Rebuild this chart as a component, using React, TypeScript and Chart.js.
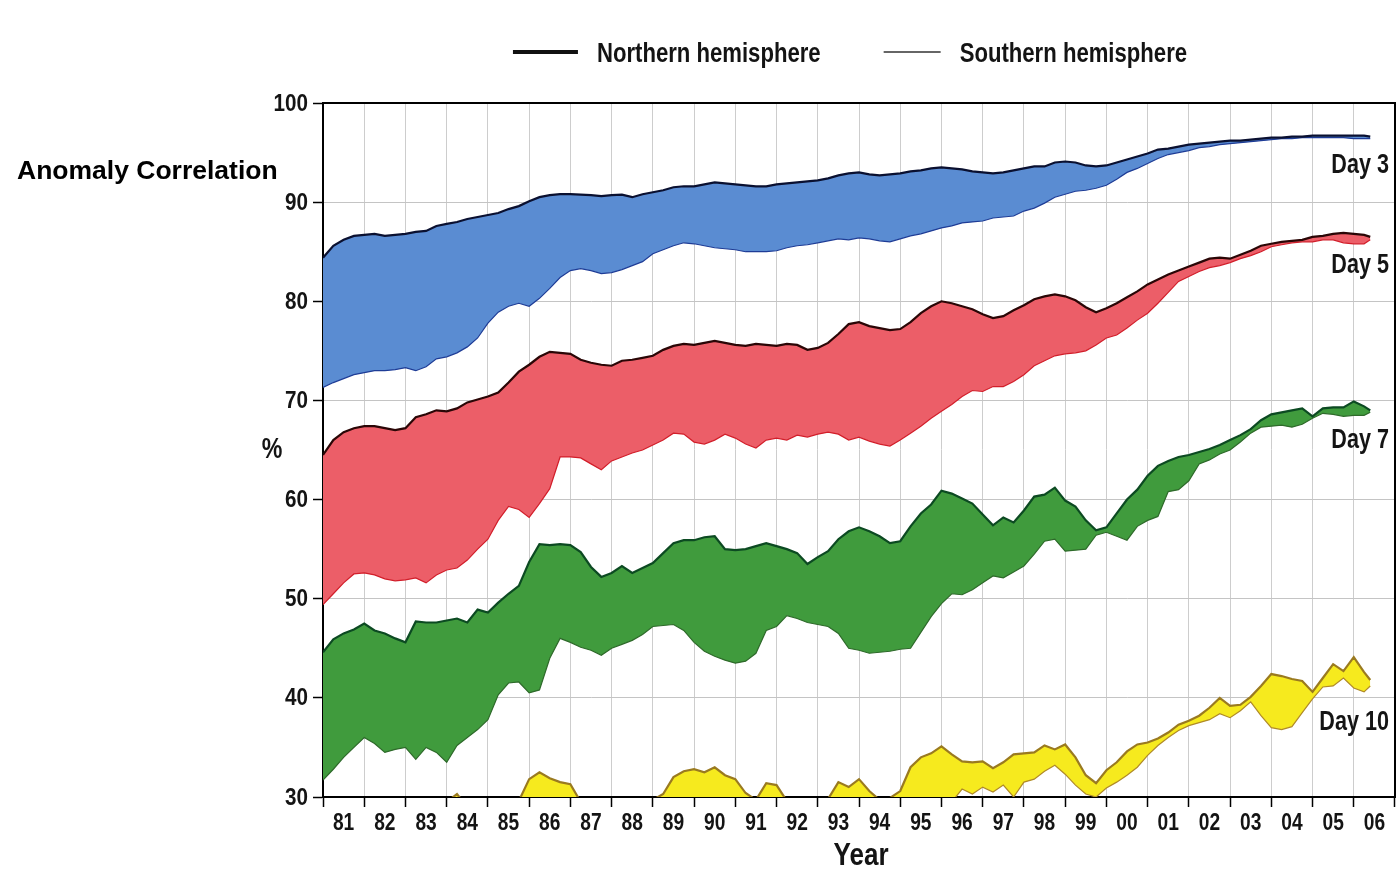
import React, { useEffect, useRef } from 'react';
import { Chart, registerables } from 'chart.js';

Chart.register(...registerables);

// x axis labels (one slot per year)
const yearLabels = ['81','82','83','84','85','86','87','88','89','90','91','92','93','94','95','96','97','98','99','00','01','02','03','04','05','06'];

// sampling positions (decimal years)
const t = [
  1981.0, 1981.25, 1981.5, 1981.75, 1982.0, 1982.25, 1982.5, 1982.75,
  1983.0, 1983.25, 1983.5, 1983.75, 1984.0, 1984.25, 1984.5, 1984.75,
  1985.0, 1985.25, 1985.5, 1985.75, 1986.0, 1986.25, 1986.5, 1986.75,
  1987.0, 1987.25, 1987.5, 1987.75, 1988.0, 1988.25, 1988.5, 1988.75,
  1989.0, 1989.25, 1989.5, 1989.75, 1990.0, 1990.25, 1990.5, 1990.75,
  1991.0, 1991.25, 1991.5, 1991.75, 1992.0, 1992.25, 1992.5, 1992.75,
  1993.0, 1993.25, 1993.5, 1993.75, 1994.0, 1994.25, 1994.5, 1994.75,
  1995.0, 1995.25, 1995.5, 1995.75, 1996.0, 1996.25, 1996.5, 1996.75,
  1997.0, 1997.25, 1997.5, 1997.75, 1998.0, 1998.25, 1998.5, 1998.75,
  1999.0, 1999.25, 1999.5, 1999.75, 2000.0, 2000.25, 2000.5, 2000.75,
  2001.0, 2001.25, 2001.5, 2001.75, 2002.0, 2002.25, 2002.5, 2002.75,
  2003.0, 2003.25, 2003.5, 2003.75, 2004.0, 2004.25, 2004.5, 2004.75,
  2005.0, 2005.25, 2005.5, 2005.75, 2006.0, 2006.25, 2006.4,
];

// Day 3
const day3North = [
  84.4, 85.6, 86.2, 86.6, 86.7, 86.8, 86.6, 86.7,
  86.8, 87.0, 87.1, 87.6, 87.8, 88.0, 88.3, 88.5,
  88.7, 88.9, 89.3, 89.6, 90.1, 90.5, 90.7, 90.8,
  90.8, 90.75, 90.7, 90.6, 90.7, 90.75, 90.5, 90.8,
  91.0, 91.2, 91.5, 91.6, 91.6, 91.8, 92.0, 91.9,
  91.8, 91.7, 91.6, 91.6, 91.8, 91.9, 92.0, 92.1,
  92.2, 92.4, 92.7, 92.9, 93.0, 92.8, 92.7, 92.8,
  92.9, 93.1, 93.2, 93.4, 93.5, 93.4, 93.3, 93.1,
  93.0, 92.9, 93.0, 93.2, 93.4, 93.6, 93.6, 94.0,
  94.1, 94.0, 93.7, 93.6, 93.7, 94.0, 94.3, 94.6,
  94.9, 95.3, 95.4, 95.6, 95.8, 95.9, 96.0, 96.1,
  96.2, 96.2, 96.3, 96.4, 96.5, 96.5, 96.6, 96.6,
  96.7, 96.7, 96.7, 96.7, 96.7, 96.7, 96.6,
];
const day3South = [
  71.3, 71.8, 72.2, 72.6, 72.8, 73.0, 73.0, 73.1,
  73.3, 73.0, 73.4, 74.2, 74.4, 74.8, 75.4, 76.3,
  77.8, 78.9, 79.5, 79.8, 79.5, 80.3, 81.3, 82.4,
  83.1, 83.3, 83.1, 82.8, 82.9, 83.2, 83.6, 84.0,
  84.8, 85.2, 85.6, 85.9, 85.8, 85.6, 85.4, 85.3,
  85.2, 85.0, 85.0, 85.0, 85.1, 85.4, 85.6, 85.7,
  85.9, 86.1, 86.3, 86.2, 86.4, 86.3, 86.1, 86.0,
  86.3, 86.6, 86.8, 87.1, 87.4, 87.6, 87.9, 88.0,
  88.1, 88.4, 88.5, 88.6, 89.1, 89.4, 89.9, 90.5,
  90.8, 91.1, 91.2, 91.4, 91.7, 92.3, 93.0, 93.4,
  93.9, 94.4, 94.8, 95.0, 95.2, 95.5, 95.6, 95.8,
  95.9, 96.0, 96.1, 96.2, 96.3, 96.4, 96.4, 96.5,
  96.5, 96.5, 96.5, 96.5, 96.4, 96.4, 96.4,
];

// Day 5
const day5North = [
  64.5, 66.0, 66.8, 67.2, 67.4, 67.4, 67.2, 67.0,
  67.2, 68.3, 68.6, 69.0, 68.9, 69.2, 69.8, 70.1,
  70.4, 70.8, 71.8, 72.9, 73.6, 74.4, 74.9, 74.8,
  74.7, 74.1, 73.8, 73.6, 73.5, 74.0, 74.1, 74.3,
  74.5, 75.1, 75.5, 75.7, 75.6, 75.8, 76.0, 75.8,
  75.6, 75.5, 75.7, 75.6, 75.5, 75.7, 75.6, 75.1,
  75.3, 75.8, 76.7, 77.7, 77.9, 77.5, 77.3, 77.1,
  77.2, 77.9, 78.8, 79.5, 80.0, 79.8, 79.5, 79.2,
  78.7, 78.3, 78.5, 79.1, 79.6, 80.2, 80.5, 80.7,
  80.5, 80.1, 79.4, 78.9, 79.3, 79.8, 80.4, 81.0,
  81.7, 82.2, 82.7, 83.1, 83.5, 83.9, 84.3, 84.4,
  84.3, 84.7, 85.1, 85.6, 85.8, 86.0, 86.1, 86.2,
  86.5, 86.6, 86.8, 86.9, 86.8, 86.7, 86.5,
];
const day5South = [
  49.4, 50.5, 51.6, 52.5, 52.6, 52.4, 52.0, 51.8,
  51.9, 52.1, 51.6, 52.4, 52.9, 53.1, 53.9, 55.0,
  56.0, 57.9, 59.3, 59.0, 58.2, 59.6, 61.1, 64.3,
  64.3, 64.2, 63.6, 63.0, 63.9, 64.3, 64.7, 65.0,
  65.5, 66.0, 66.7, 66.6, 65.8, 65.6, 66.0, 66.6,
  66.2, 65.6, 65.2, 66.0, 66.2, 66.0, 66.5, 66.3,
  66.6, 66.8, 66.6, 66.0, 66.3, 65.9, 65.6, 65.4,
  66.0, 66.7, 67.4, 68.2, 68.9, 69.6, 70.4, 71.0,
  70.9, 71.4, 71.4, 71.9, 72.6, 73.5, 74.0, 74.5,
  74.7, 74.8, 75.0, 75.6, 76.3, 76.6, 77.3, 78.1,
  78.8, 79.8, 80.9, 82.0, 82.5, 83.0, 83.4, 83.6,
  83.9, 84.3, 84.6, 85.0, 85.5, 85.7, 85.9, 86.0,
  86.0, 86.2, 86.2, 85.9, 85.8, 85.8, 86.2,
];

// Day 7
const day7North = [
  44.6, 45.9, 46.5, 46.9, 47.5, 46.8, 46.5, 46.0,
  45.6, 47.7, 47.6, 47.6, 47.8, 48.0, 47.6, 48.9,
  48.6, 49.6, 50.5, 51.3, 53.7, 55.5, 55.4, 55.5,
  55.4, 54.7, 53.2, 52.2, 52.6, 53.3, 52.6, 53.1,
  53.6, 54.6, 55.6, 55.9, 55.9, 56.2, 56.3, 55.0,
  54.9, 55.0, 55.3, 55.6, 55.3, 55.0, 54.6, 53.5,
  54.2, 54.8, 56.0, 56.8, 57.2, 56.8, 56.3, 55.6,
  55.8, 57.3, 58.6, 59.5, 60.9, 60.6, 60.1, 59.6,
  58.5, 57.4, 58.2, 57.7, 58.9, 60.3, 60.5, 61.2,
  59.9, 59.3, 57.9, 56.9, 57.2, 58.6, 60.0, 61.0,
  62.4, 63.4, 63.9, 64.3, 64.5, 64.8, 65.1, 65.5,
  66.0, 66.5, 67.1, 68.0, 68.6, 68.8, 69.0, 69.2,
  68.4, 69.2, 69.3, 69.3, 69.9, 69.4, 69.0,
];
const day7South = [
  31.7, 32.8, 34.0, 35.0, 36.0, 35.4, 34.5, 34.8,
  35.0, 33.8, 35.0, 34.5, 33.5, 35.2, 36.0, 36.8,
  37.8, 40.3, 41.5, 41.6, 40.5, 40.8, 44.0, 46.0,
  45.6, 45.1, 44.8, 44.3, 45.0, 45.4, 45.8, 46.4,
  47.2, 47.3, 47.4, 46.8, 45.6, 44.7, 44.2, 43.8,
  43.5, 43.7, 44.5, 46.8, 47.2, 48.3, 48.0, 47.6,
  47.4, 47.2, 46.5, 45.0, 44.8, 44.5, 44.6, 44.7,
  44.9, 45.0, 46.6, 48.2, 49.5, 50.5, 50.4, 50.9,
  51.6, 52.3, 52.1, 52.7, 53.3, 54.5, 55.8, 56.0,
  54.8, 54.9, 55.0, 56.4, 56.7, 56.3, 55.9, 57.3,
  57.9, 58.3, 60.8, 61.0, 61.9, 63.6, 64.0, 64.6,
  65.0, 65.8, 66.7, 67.3, 67.4, 67.5, 67.3, 67.6,
  68.2, 68.7, 68.6, 68.4, 68.5, 68.5, 68.8,
];

// Day 10 (values below 30 fall outside the plotted range)
const day10North = [
  26.5, 27.0, 27.5, 27.0, 27.5, 27.0, 26.5, 27.0,
  27.5, 28.0, 27.5, 28.5, 29.5, 30.3, 29.0, 28.5,
  29.0, 29.3, 29.5, 29.6, 31.8, 32.5, 31.9, 31.5,
  31.3, 29.5, 28.5, 29.0, 29.3, 29.8, 29.0, 29.5,
  29.7, 30.3, 32.0, 32.6, 32.8, 32.5, 33.0, 32.2,
  31.8, 30.4, 29.7, 31.4, 31.2, 29.6, 28.5, 29.0,
  29.5, 29.8, 31.5, 31.0, 31.8, 30.6, 29.7, 29.9,
  30.6, 33.0, 34.0, 34.4, 35.1, 34.3, 33.6, 33.5,
  33.6, 32.9, 33.5, 34.3, 34.4, 34.5, 35.2, 34.8,
  35.3, 34.0, 32.2, 31.4, 32.7, 33.5, 34.6, 35.3,
  35.5, 35.9, 36.5, 37.3, 37.7, 38.2, 39.0, 40.0,
  39.2, 39.3, 40.1, 41.2, 42.4, 42.2, 41.9, 41.7,
  40.6, 42.0, 43.4, 42.7, 44.1, 42.6, 41.8,
];
const day10South = [
  23.0, 23.5, 24.0, 23.5, 24.0, 23.5, 23.0, 23.5,
  24.0, 24.5, 24.0, 24.5, 25.0, 25.5, 25.0, 24.5,
  25.0, 25.0, 25.5, 25.5, 26.0, 26.5, 26.0, 26.0,
  26.0, 25.5, 25.0, 25.0, 25.5, 25.5, 25.0, 25.5,
  25.5, 26.0, 26.5, 27.0, 27.0, 27.0, 27.5, 27.0,
  27.0, 26.5, 26.0, 26.5, 26.5, 26.0, 25.5, 26.0,
  26.0, 26.5, 27.0, 27.0, 27.5, 27.0, 26.5, 26.5,
  27.0, 27.5, 28.0, 28.5, 29.0, 29.5, 30.8, 30.3,
  31.0, 30.5, 31.2, 30.0, 31.5, 31.8, 32.6, 33.2,
  32.3, 31.2, 30.3, 30.0, 30.9, 31.5, 32.2, 33.0,
  34.2, 35.2, 36.0, 36.7, 37.2, 37.5, 37.8, 38.4,
  38.0, 38.7, 39.6, 38.2, 37.0, 36.8, 37.1, 38.5,
  39.9, 41.1, 41.2, 42.0, 41.0, 40.6, 41.2,
];

const dayNames = ['Day 3', 'Day 5', 'Day 7', 'Day 10'];
const dayLabelValues = [93.7, 83.6, 66.0, 37.5];
const legendNames = ['Northern hemisphere', 'Southern hemisphere'];
const xTitle = 'Year';
const yTitle = '%';

const FONT = '"Liberation Sans", Arial, sans-serif';
const TEXT = '#141414';

const bands = [
  { n: day3North, s: day3South, fill: '#5a8cd2', nLine: '#0a1030', sLine: '#1e3c96' },
  { n: day5North, s: day5South, fill: '#ec5e68', nLine: '#2a0606', sLine: '#d21e2a' },
  { n: day7North, s: day7South, fill: '#409b3d', nLine: '#0c4a22', sLine: '#2e6a2a' },
  { n: day10North, s: day10South, fill: '#f6ea1e', nLine: '#9a7a20', sLine: '#b08a28' },
];

// condensed bold text (narrow look), horizontally squeezed
function narrowText(ctx: CanvasRenderingContext2D, text: string, x: number, y: number, size: number, align: 'left' | 'right' | 'center', sx: number) {
  ctx.save();
  ctx.font = `bold ${size}px ${FONT}`;
  ctx.textBaseline = 'middle';
  ctx.textAlign = 'left';
  ctx.fillStyle = TEXT;
  const w = ctx.measureText(text).width * sx;
  const x0 = align === 'left' ? x : align === 'right' ? x - w : x - w / 2;
  ctx.translate(x0, y);
  ctx.scale(sx, 1);
  ctx.fillText(text, 0, 0);
  ctx.restore();
  return w;
}

function narrowWidth(ctx: CanvasRenderingContext2D, text: string, size: number, sx: number) {
  ctx.save();
  ctx.font = `bold ${size}px ${FONT}`;
  const w = ctx.measureText(text).width * sx;
  ctx.restore();
  return w;
}

const decor = {
  id: 'decor',
  afterDraw(chart: any) {
    const { ctx, chartArea } = chart;
    const { left, right, top, bottom } = chartArea;
    const yScale = chart.scales.y;
    const xScale = chart.scales.xc;
    ctx.save();
    // frame (top and right)
    ctx.strokeStyle = '#000';
    ctx.lineWidth = 2;
    ctx.beginPath();
    ctx.moveTo(left, top);
    ctx.lineTo(right, top);
    ctx.lineTo(right, bottom);
    ctx.stroke();

    // y tick labels
    yScale.ticks.forEach((tk: any) => {
      narrowText(ctx, String(tk.value), left - 15, yScale.getPixelForValue(tk.value) + 1, 24, 'right', 0.86);
    });
    // x tick labels
    yearLabels.forEach((lab, i) => {
      narrowText(ctx, lab, xScale.getPixelForTick(i), bottom + 26, 24, 'center', 0.8);
    });
    // axis titles
    narrowText(ctx, xTitle, (left + right) / 2 + 2, bottom + 59, 31, 'center', 0.84);
    narrowText(ctx, yTitle, left - 51, (top + bottom) / 2, 29, 'center', 0.8);

    // legend
    const lsz = 28, lsx = 0.79;
    const w1 = narrowWidth(ctx, legendNames[0], lsz, lsx);
    const w2 = narrowWidth(ctx, legendNames[1], lsz, lsx);
    const seg1 = 65, seg2 = 57, gapT = 19, gapItem = 63;
    const total = seg1 + gapT + w1 + gapItem + seg2 + gapT + w2;
    const cx = (left + right) / 2 - 9;
    let x = cx - total / 2;
    const ly = top - 51;
    ctx.strokeStyle = '#111';
    ctx.lineWidth = 4;
    ctx.beginPath(); ctx.moveTo(x, ly); ctx.lineTo(x + seg1, ly); ctx.stroke();
    x += seg1 + gapT;
    narrowText(ctx, legendNames[0], x, ly + 2, lsz, 'left', lsx);
    x += w1 + gapItem;
    ctx.strokeStyle = '#333';
    ctx.lineWidth = 1.5;
    ctx.beginPath(); ctx.moveTo(x, ly); ctx.lineTo(x + seg2, ly); ctx.stroke();
    x += seg2 + gapT;
    narrowText(ctx, legendNames[1], x, ly + 2, lsz, 'left', lsx);

    // day labels
    dayNames.forEach((name, i) => {
      narrowText(ctx, name, right - 6, yScale.getPixelForValue(dayLabelValues[i]), 27, 'right', 0.8);
    });
    ctx.restore();
  },
};

export default function App() {
  const ref = useRef<HTMLCanvasElement>(null);
  useEffect(() => {
    const canvas = ref.current;
    if (!canvas) return;
    const datasets: any[] = [];
    bands.forEach((b, i) => {
      datasets.push({
        label: dayNames[i] + ' ' + legendNames[0],
        data: b.n.map((v, k) => ({ x: t[k], y: v })),
        borderColor: b.nLine,
        borderWidth: 2.2,
        backgroundColor: b.fill,
        fill: '+1',
        pointRadius: 0,
        tension: 0,
        xAxisID: 'x',
        yAxisID: 'y',
        clip: 0,
      });
      datasets.push({
        label: dayNames[i] + ' ' + legendNames[1],
        data: b.s.map((v, k) => ({ x: t[k], y: v })),
        borderColor: b.sLine,
        borderWidth: 1.2,
        backgroundColor: b.fill,
        fill: false,
        pointRadius: 0,
        tension: 0,
        xAxisID: 'x',
        yAxisID: 'y',
        clip: 0,
      });
    });

    const chart = new Chart(canvas, {
      type: 'line',
      data: { datasets },
      options: {
        animation: false,
        responsive: true,
        maintainAspectRatio: false,
        layout: { padding: { top: 103, right: 4, left: 0, bottom: 0 } },
        plugins: {
          legend: { display: false },
          tooltip: { enabled: false },
          filler: { drawTime: 'beforeDatasetsDraw' },
        } as any,
        scales: {
          x: { type: 'linear', min: 1981, max: 2007, display: false },
          xc: {
            type: 'category',
            labels: yearLabels,
            position: 'bottom',
            offset: true,
            grid: { offset: true, color: '#cdcdcd', lineWidth: 1, tickColor: '#000', tickLength: 10, tickWidth: 1.5 },
            border: { display: true, color: '#000', width: 2 },
            ticks: { display: false, autoSkip: false, maxRotation: 0 },
            afterFit: (s: any) => { s.height = 73; },
          },
          y: {
            type: 'linear',
            min: 30,
            max: 100,
            position: 'left',
            ticks: { display: false, stepSize: 10 },
            grid: { color: '#c4c4c4', lineWidth: 1, tickColor: '#000', tickLength: 10, tickWidth: 1.5 },
            border: { display: true, color: '#000', width: 2 },
            afterFit: (s: any) => { s.width = 323; },
          },
        } as any,
      },
      plugins: [decor],
    });
    return () => chart.destroy();
  }, []);

  return (
    <div style={{ position: 'absolute', left: 0, top: 0, width: 1399, height: 870, background: '#fff' }}>
      <canvas ref={ref} />
      <div
        style={{
          position: 'absolute',
          left: 17,
          top: 155,
          lineHeight: '30px',
          font: 'bold 26.5px "Liberation Sans", Arial, sans-serif',
          color: '#000',
          whiteSpace: 'nowrap',
        }}
      >
        Anomaly Correlation
      </div>
    </div>
  );
}
